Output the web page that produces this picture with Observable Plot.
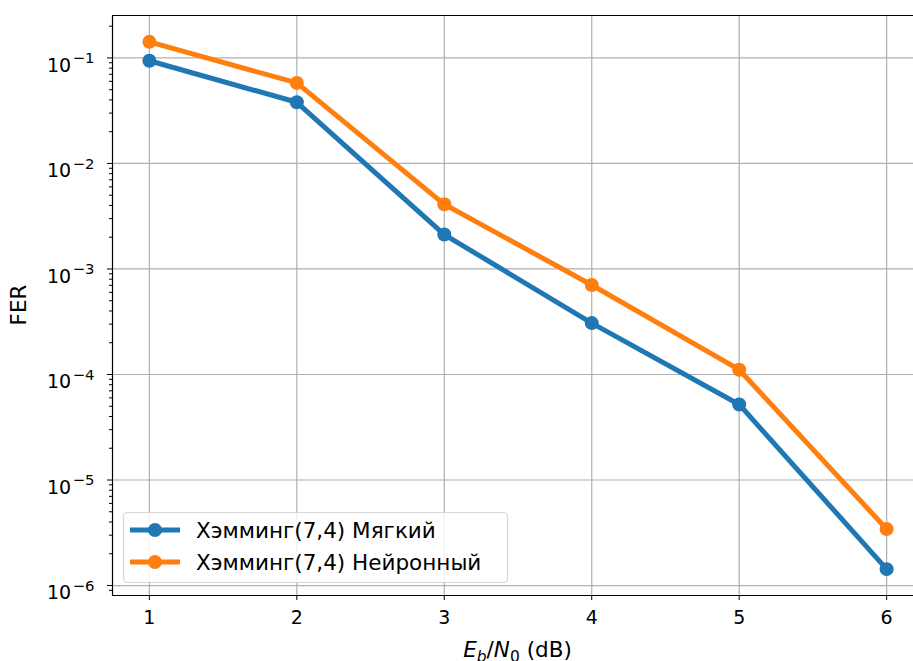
<!DOCTYPE html>
<html><head><meta charset="utf-8">
<script src="https://cdn.jsdelivr.net/npm/d3@7"></script>
<script src="https://cdn.jsdelivr.net/npm/@observablehq/plot@0.6"></script>
<style>
body{margin:0;background:#fff;}
#wrap{width:913px;height:661px;overflow:hidden;}
</style>
</head><body><div id="wrap"></div>
<script>
const ebn0 = [1, 2, 3, 4, 5, 6];
const ferSoft = [0.094, 0.038, 0.00212, 0.000307, 0.000052, 0.00000143];
const ferNeural = [0.142, 0.058, 0.0041, 0.000705, 0.000111, 0.00000343];
const seriesNames = ["Хэмминг(7,4) Мягкий", "Хэмминг(7,4) Нейронный"];
const seriesColors = ["#1f77b4", "#ff7f0e"];
const xTicks = [1, 2, 3, 4, 5, 6];
const yExponents = [-6, -5, -4, -3, -2, -1];

const rows = [];
ebn0.forEach((x, i) => rows.push({x, y: ferSoft[i], s: seriesNames[0]}));
ebn0.forEach((x, i) => rows.push({x, y: ferNeural[i], s: seriesNames[1]}));

const yMajor = yExponents.map(e => Math.pow(10, e));
const yMinor = [];
for (let e = -7; e <= 0; e++) for (let m = 2; m <= 9; m++) yMinor.push(m * Math.pow(10, e));

// matplotlib-like autoscale margins (5% of data span)
const lmin = Math.log10(d3.min(rows, d => d.y)), lmax = Math.log10(d3.max(rows, d => d.y));
const pad = 0.05 * (lmax - lmin);
const yDomain = [Math.pow(10, lmin - pad), Math.pow(10, lmax + pad)];
const xDomain = [0.75, 6.25];
const yMinorIn = yMinor.filter(v => v >= yDomain[0] && v <= yDomain[1]);

const FONT = "DejaVu Sans, sans-serif";
const FS = 19;       // tick labels
const FL = 21.5;     // axis labels & legend
const LW = 5;        // line width
const R = 7;         // marker radius
const W = 923, H = 661, ML = 112, MT = 15, MB = 66;

const chart = Plot.plot({
  width: W, height: H,
  marginLeft: ML, marginRight: 0, marginTop: MT, marginBottom: MB,
  style: {fontFamily: FONT, fontSize: FS + "px", color: "#000", background: "#fff"},
  x: {domain: xDomain, label: null},
  y: {type: "log", domain: yDomain, label: null},
  color: {domain: seriesNames, range: seriesColors},
  marks: [
    Plot.gridX(xTicks, {stroke: "#b0b0b0", strokeOpacity: 1, strokeWidth: 1.2}),
    Plot.gridY(yMajor, {stroke: "#b0b0b0", strokeOpacity: 1, strokeWidth: 1.2}),
    Plot.ruleX([xDomain[0]], {stroke: "#000", strokeWidth: 1.2}),
    Plot.ruleY([yDomain[0], yDomain[1]], {stroke: "#000", strokeWidth: 1.2}),
    Plot.axisX({ticks: xTicks, tickFormat: d => String(d), tickSize: 5, tickPadding: 10, fontSize: FS, label: null}),
    Plot.axisY({ticks: yMinorIn, tickFormat: () => "", tickSize: 3, label: null}),
    Plot.axisY({ticks: yMajor, tickFormat: d => String(Math.round(Math.log10(d))), tickSize: 5, tickPadding: 13, fontSize: FS, label: null}),
    Plot.line(rows, {x: "x", y: "y", z: "s", stroke: "s", strokeWidth: LW}),
    Plot.dot(rows, {x: "x", y: "y", fill: "s", r: R})
  ]
});
chart.style.maxWidth = "none";
document.getElementById("wrap").appendChild(chart);

const svg = d3.select(chart);
// superscript exponent labels
svg.selectAll("g[aria-label='y-axis tick label'] text").each(function() {
  const t = d3.select(this);
  const e = t.text();
  if (e === "") return;
  t.text("10").attr("dy", "0.4em");
  t.append("tspan").attr("dx", "1.5").attr("dy", "-0.58em").attr("font-size", (FS * 0.78) + "px").text(e.replace("-", "\u2212"));
});

// axis labels
svg.append("text")
  .attr("transform", `translate(20,${(MT + (H - MB)) / 2}) rotate(-90)`)
  .attr("text-anchor", "middle").attr("font-family", FONT).attr("font-size", FL + "px")
  .attr("dominant-baseline", "middle").attr("fill", "#000")
  .text("FER");

const xl = svg.append("text")
  .attr("x", (ML + W) / 2).attr("y", 657)
  .attr("text-anchor", "middle").attr("font-family", FONT).attr("font-size", FL + "px").attr("fill", "#000");
xl.append("tspan").attr("font-style", "oblique").text("E");
xl.append("tspan").attr("font-style", "oblique").attr("font-size", (FL * 0.72) + "px").attr("dy", "0.3em").text("b");
xl.append("tspan").attr("dy", "-0.21em").text("/");
xl.append("tspan").attr("font-style", "oblique").text("N");
xl.append("tspan").attr("font-size", (FL * 0.72) + "px").attr("dy", "0.3em").text("0");
xl.append("tspan").attr("dy", "-0.21em").text(" (dB)");

// legend
const lg = svg.append("g");
lg.append("rect").attr("x", 123.5).attr("y", 512.5).attr("width", 384).attr("height", 70).attr("rx", 4)
  .attr("fill", "#fff").attr("fill-opacity", 0.8).attr("stroke", "#d6d6d6").attr("stroke-width", 1.2);
seriesNames.forEach((name, i) => {
  const cy = 530 + i * 32;
  lg.append("line").attr("x1", 130).attr("x2", 180).attr("y1", cy).attr("y2", cy)
    .attr("stroke", seriesColors[i]).attr("stroke-width", LW);
  lg.append("circle").attr("cx", 155).attr("cy", cy).attr("r", R).attr("fill", seriesColors[i]);
  lg.append("text").attr("x", 196).attr("y", cy).attr("dominant-baseline", "central")
    .attr("text-anchor", "start")
    .attr("font-family", FONT).attr("font-size", FL + "px").attr("fill", "#000").text(name);
});
</script>
</body></html>
